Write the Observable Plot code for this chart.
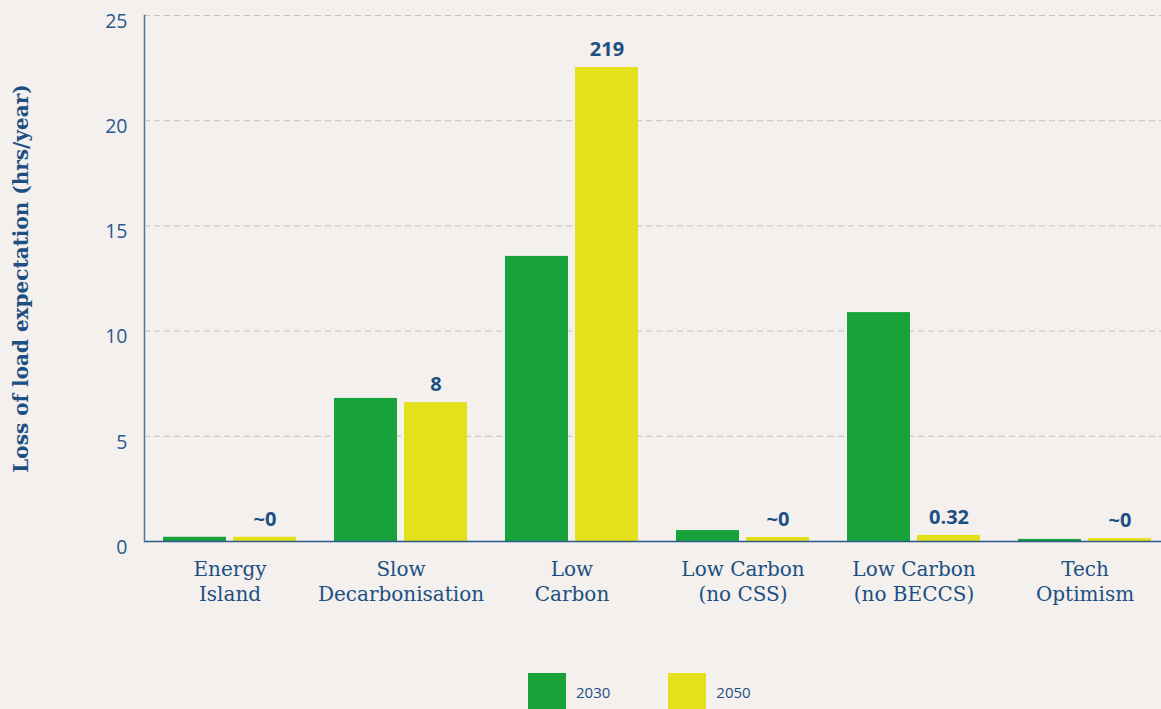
<!DOCTYPE html>
<html><head><meta charset="utf-8">
<script src="https://cdn.jsdelivr.net/npm/d3@7"></script>
<script src="https://cdn.jsdelivr.net/npm/@observablehq/plot@0.6"></script>
<style>
body{margin:0;background:#f3f0ed;width:1161px;height:709px;overflow:hidden;}
#legend{display:flex;align-items:center;margin-left:528px;margin-top:13px;font-family:"Open Sans",sans-serif;font-size:15px;color:#1d4f82}
.item{display:flex;align-items:center;margin-right:58px}
.sw{width:38px;height:38px;margin-right:10px}
</style></head><body>
<div id="chart"></div>
<div id="legend"></div>
<script>
const scenarios = ["Energy\nIsland","Slow\nDecarbonisation","Low\nCarbon","Low Carbon\n(no CSS)","Low Carbon\n(no BECCS)","Tech\nOptimism"];
const years = ["2030","2050"];
const values2030 = [0.2, 6.8, 13.55, 0.52, 10.88, 0.1];
const values2050 = [0.2, 6.6, 22.53, 0.19, 0.29, 0.14];
const labels2050 = ["~0","8","219","~0","0.32","~0"];
const yTicks = [0,5,10,15,20,25];
const colors = ["#17a339","#e4e01a"];
const yLabel = "Loss of load expectation (hrs/year)";

const rows = [];
scenarios.forEach((s,i) => {
  rows.push({scenario:s, year:years[0], value:values2030[i], label:null});
  rows.push({scenario:s, year:years[1], value:values2050[i], label:labels2050[i]});
});

const blue = "#1d4f82";
const chart = Plot.plot({
  width: 1161, height: 660,
  marginLeft: 143, marginRight: -9, marginTop: 15, marginBottom: 119,
  style: {background: "transparent", color: blue, overflow: "visible"},
  fx: {domain: scenarios, padding: 0, label: null},
  x: {domain: years, paddingInner: 0.1, paddingOuter: 0.27, axis: null},
  y: {domain: [0,25], label: null},
  color: {domain: years, range: colors},
  marks: [
    Plot.gridY(yTicks.filter(d => d > 0), {stroke: "#c4c4c4", strokeOpacity: 1, strokeDasharray: "6,4", strokeWidth: 1}),
    Plot.barY(rows, {fx: "scenario", x: "year", y: "value", fill: "year"}),
    Plot.text(rows.filter(d => d.label), {fx: "scenario", x: "year", y: "value", text: "label", dy: -18, fontSize: 20, fontWeight: 700, fontFamily: "Open Sans", fill: blue}),
    Plot.ruleY([0], {stroke: "#2c5a8a", strokeWidth: 1.5}),
    Plot.frame({anchor: "left", facetAnchor: "left", stroke: "#4f73a0", strokeWidth: 1.5}),
    Plot.axisY(yTicks, {tickSize: 0, tickPadding: 17, dy: 6, fontSize: 19.5, fontFamily: "Open Sans", fill: "#2a5a8c", label: null}),
    Plot.axisY({ticks: [], tickSize: 0, label: yLabel, labelAnchor: "center", labelOffset: 131, labelArrow: "none", fontSize: 20, fontWeight: 700, fontFamily: "DejaVu Serif", fill: blue}),
    Plot.axisFx({anchor: "bottom", tickSize: 0, tickPadding: 17, fontSize: 20, lineHeight: 1.25, fontFamily: "DejaVu Serif", fill: blue, label: null})
  ]
});
document.getElementById("chart").appendChild(chart);

const legend = document.getElementById("legend");
years.forEach((y,i) => {
  const item = document.createElement("div"); item.className = "item";
  const sw = document.createElement("div"); sw.className = "sw"; sw.style.background = colors[i];
  const t = document.createElement("span"); t.textContent = y;
  item.appendChild(sw); item.appendChild(t); legend.appendChild(item);
});
</script>
</body></html>
